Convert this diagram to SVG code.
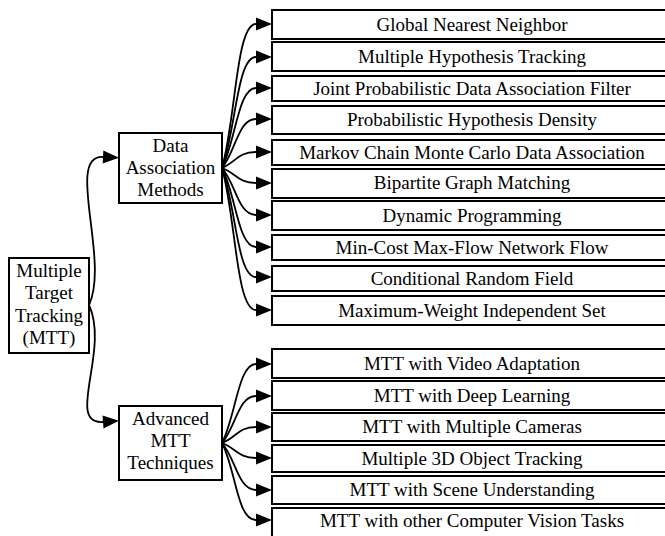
<svg xmlns="http://www.w3.org/2000/svg" width="665" height="536" viewBox="0 0 665 536">
<style>
rect{fill:#fff;stroke:#000;stroke-width:2}
text{font-size:19px;fill:#000;text-anchor:middle}
.c path{fill:none;stroke:#000;stroke-width:1.8}
</style>
<defs>
<marker id="ah" markerUnits="userSpaceOnUse" markerWidth="18" markerHeight="16" refX="0" refY="7" orient="auto" overflow="visible">
<path d="M0,0.5 L16,7 L0,13.5 z" fill="#000"/>
</marker>
</defs>
<g class="c" id="connectors">
<path marker-end="url(#ah)" d="M89,305 C110,260 65,155 103,157"/>
<path marker-end="url(#ah)" d="M89,305 C110,350 65,425 103,422"/>
<path marker-end="url(#ah)" d="M222,168 C236,118 236,24 256,24"/>
<path marker-end="url(#ah)" d="M222,168 C236,129 237,57 256,57"/>
<path marker-end="url(#ah)" d="M222,168 C236,140 238,88 256,88"/>
<path marker-end="url(#ah)" d="M222,168 C236,151 238,119 256,119"/>
<path marker-end="url(#ah)" d="M222,168 C236,162 238,152 256,152"/>
<path marker-end="url(#ah)" d="M222,168 C236,173 238,183 256,183"/>
<path marker-end="url(#ah)" d="M222,168 C236,184 238,215 256,215"/>
<path marker-end="url(#ah)" d="M222,168 C236,195 238,247 256,247"/>
<path marker-end="url(#ah)" d="M222,168 C236,206 237,277 256,277"/>
<path marker-end="url(#ah)" d="M222,168 C236,218 236,310 256,310"/>
<path marker-end="url(#ah)" d="M222,443 C236,416 238,364 256,364"/>
<path marker-end="url(#ah)" d="M222,443 C236,427 238,396 256,396"/>
<path marker-end="url(#ah)" d="M222,443 C236,438 238,427 256,427"/>
<path marker-end="url(#ah)" d="M222,443 C236,448 238,458 256,458"/>
<path marker-end="url(#ah)" d="M222,443 C236,459 238,490 256,490"/>
<path marker-end="url(#ah)" d="M222,443 C236,470 237,520 256,520"/>
</g>
<g font-family="'Liberation Serif', 'DejaVu Serif', serif">
<g id="mtt"><rect x="9" y="258" width="80" height="95"/><text x="49" y="277">Multiple</text><text x="49" y="299">Target</text><text x="49" y="321.5">Tracking</text><text x="49" y="344">(MTT)</text></g>
<g id="dam"><rect x="119" y="133" width="103" height="70"/><text x="170.5" y="152">Data</text><text x="170.5" y="174">Association</text><text x="170.5" y="195.5">Methods</text></g>
<g id="adv"><rect x="119" y="406" width="103" height="74"/><text x="170.5" y="425">Advanced</text><text x="170.5" y="447">MTT</text><text x="170.5" y="469">Techniques</text></g>
<g id="gnn"><rect x="272" y="10" width="400" height="29"/><text x="472" y="30.5">Global Nearest Neighbor</text></g>
<g id="mht"><rect x="272" y="42" width="400" height="29"/><text x="472" y="62.5">Multiple Hypothesis Tracking</text></g>
<g id="jpdaf"><rect x="272" y="76" width="400" height="25"/><text x="472" y="94.5">Joint Probabilistic Data Association Filter</text></g>
<g id="phd"><rect x="272" y="106" width="400" height="28"/><text x="472" y="126">Probabilistic Hypothesis Density</text></g>
<g id="mcmc"><rect x="272" y="140" width="400" height="25"/><text x="472" y="158.5">Markov Chain Monte Carlo Data Association</text></g>
<g id="bgm"><rect x="272" y="169" width="400" height="29"/><text x="472" y="189">Bipartite Graph Matching</text></g>
<g id="dp"><rect x="272" y="201" width="400" height="29"/><text x="472" y="221.5">Dynamic Programming</text></g>
<g id="mcmf"><rect x="272" y="235" width="400" height="25"/><text x="472" y="253.5">Min-Cost Max-Flow Network Flow</text></g>
<g id="crf"><rect x="272" y="266" width="400" height="25"/><text x="472" y="284.5">Conditional Random Field</text></g>
<g id="mwis"><rect x="272" y="296" width="400" height="29"/><text x="472" y="316.5">Maximum-Weight Independent Set</text></g>
<g id="va"><rect x="272" y="349" width="400" height="29"/><text x="472" y="369.5">MTT with Video Adaptation</text></g>
<g id="dl"><rect x="272" y="381" width="400" height="29"/><text x="472" y="401.5">MTT with Deep Learning</text></g>
<g id="mc"><rect x="272" y="413" width="400" height="28"/><text x="472" y="433">MTT with Multiple Cameras</text></g>
<g id="m3d"><rect x="272" y="445" width="400" height="27"/><text x="472" y="464.5">Multiple 3D Object Tracking</text></g>
<g id="su"><rect x="272" y="476" width="400" height="28"/><text x="472" y="496">MTT with Scene Understanding</text></g>
<g id="cv"><rect x="272" y="508" width="400" height="32"/><text x="472" y="527">MTT with other Computer Vision Tasks</text></g>
</g>
</svg>
